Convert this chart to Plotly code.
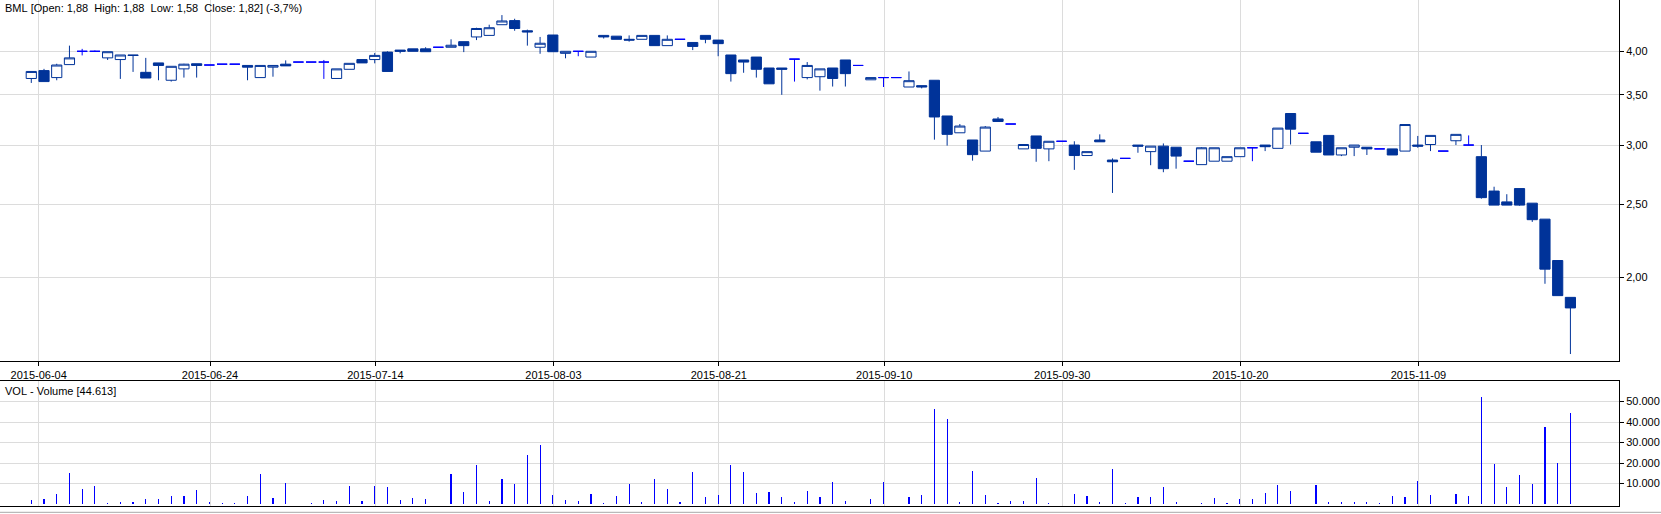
import plotly.graph_objects as go

# ---- data ----
opens = [3.68, 3.77, 3.69, 3.84, 4.00, 4.00, 3.92, 3.90, 3.955, 3.75,
         3.86, 3.66, 3.79, 3.85, 3.835, 3.845, 3.845, 3.83, 3.69, 3.81,
         3.845, 3.87, 3.87, 3.87, 3.68, 3.785, 3.90, 3.90, 3.99, 4.015,
         4.03, 4.03, 4.05, 4.05, 4.12, 4.18, 4.20, 4.34, 4.395, 4.26,
         4.05, 4.205, 3.975, 4.00, 3.93, 4.20, 4.19, 4.15, 4.15, 4.20,
         4.07, 4.15, 4.11, 4.20, 4.14, 3.955, 3.895, 3.93, 3.80, 3.80,
         3.905, 3.69, 3.70, 3.80, 3.895, 3.83, 3.665, 3.69, 3.69, 3.585,
         3.60, 3.66, 3.28, 3.115, 3.047, 2.945, 3.25, 3.20, 2.965, 3.085,
         2.965, 3.035, 3.00, 2.905, 3.047, 2.865, 2.88, 3.00, 2.94, 2.99,
         2.98, 2.855, 2.825, 2.855, 2.855, 2.895, 2.975, 3.00, 2.97, 3.305,
         3.11, 3.03, 3.09, 2.91, 2.98, 2.98, 2.965, 2.965, 2.945, 3.00,
         3.005, 2.945, 3.04, 3.00, 2.895, 2.605, 2.52, 2.625, 2.51, 2.39,
         2.105, 1.88]
highs = [3.76, 3.79, 3.85, 4.07, 4.03, 4.01, 3.995, 3.955, 3.955, 3.92,
         3.86, 3.82, 3.85, 3.85, 3.835, 3.845, 3.845, 3.83, 3.83, 3.83,
         3.89, 3.87, 3.87, 3.895, 3.79, 3.855, 3.90, 3.98, 4.00, 4.015,
         4.03, 4.05, 4.05, 4.15, 4.12, 4.30, 4.34, 4.47, 4.42, 4.275,
         4.18, 4.205, 4.00, 4.00, 4.00, 4.20, 4.19, 4.20, 4.20, 4.20,
         4.20, 4.15, 4.11, 4.20, 4.14, 3.955, 3.895, 3.93, 3.80, 3.80,
         3.905, 3.87, 3.79, 3.80, 3.895, 3.83, 3.69, 3.69, 3.69, 3.76,
         3.60, 3.66, 3.28, 3.20, 3.047, 3.18, 3.27, 3.20, 3.005, 3.085,
         3.035, 3.035, 3.035, 2.94, 3.10, 2.88, 2.88, 3.00, 2.99, 3.015,
         2.98, 2.855, 2.98, 2.975, 2.895, 2.975, 2.975, 3.00, 3.16, 3.305,
         3.11, 3.03, 3.09, 2.975, 3.00, 2.98, 2.965, 2.965, 3.195, 3.085,
         3.09, 2.945, 3.10, 3.09, 3.00, 2.64, 2.58, 2.625, 2.51, 2.39,
         2.105, 1.88]
lows = [3.63, 3.645, 3.66, 3.84, 3.95, 3.995, 3.895, 3.675, 3.755, 3.685,
        3.66, 3.645, 3.69, 3.69, 3.835, 3.845, 3.845, 3.66, 3.69, 3.70,
        3.825, 3.87, 3.87, 3.675, 3.68, 3.785, 3.86, 3.855, 3.76, 3.975,
        4.00, 3.995, 4.05, 4.05, 3.99, 4.14, 4.20, 4.34, 4.26, 4.07,
        3.97, 3.995, 3.915, 3.94, 3.93, 4.16, 4.15, 4.12, 4.15, 4.07,
        4.07, 4.15, 4.015, 4.10, 3.94, 3.645, 3.745, 3.69, 3.62, 3.50,
        3.645, 3.67, 3.545, 3.59, 3.59, 3.83, 3.665, 3.585, 3.69, 3.585,
        3.57, 3.05, 2.995, 3.115, 2.86, 2.945, 3.225, 3.20, 2.965, 2.85,
        2.855, 3.035, 2.78, 2.905, 3.03, 2.59, 2.88, 2.93, 2.82, 2.76,
        2.79, 2.855, 2.825, 2.855, 2.855, 2.895, 2.855, 2.945, 2.97, 3.005,
        3.11, 2.935, 2.91, 2.90, 2.90, 2.91, 2.965, 2.91, 2.945, 2.975,
        2.945, 2.945, 3.00, 3.00, 2.545, 2.495, 2.495, 2.49, 2.37, 1.96,
        1.89, 1.58]
closes = [3.76, 3.645, 3.835, 3.92, 4.00, 4.00, 3.995, 3.955, 3.95, 3.685,
          3.83, 3.82, 3.845, 3.83, 3.835, 3.845, 3.845, 3.81, 3.83, 3.83,
          3.825, 3.87, 3.87, 3.87, 3.79, 3.855, 3.86, 3.95, 3.76, 4.00,
          4.00, 3.995, 4.05, 4.075, 4.07, 4.29, 4.30, 4.39, 4.29, 4.245,
          4.10, 3.995, 4.00, 4.00, 4.00, 4.18, 4.15, 4.14, 4.20, 4.07,
          4.15, 4.15, 4.06, 4.15, 4.095, 3.735, 3.87, 3.785, 3.62, 3.785,
          3.905, 3.83, 3.79, 3.68, 3.735, 3.83, 3.69, 3.69, 3.69, 3.655,
          3.585, 3.27, 3.10, 3.18, 2.913, 3.17, 3.225, 3.20, 3.005, 2.97,
          3.035, 3.035, 2.905, 2.94, 3.03, 2.85, 2.88, 2.99, 2.99, 2.79,
          2.90, 2.855, 2.975, 2.975, 2.895, 2.975, 2.975, 2.985, 3.16, 3.15,
          3.11, 2.935, 2.91, 2.975, 3.00, 2.965, 2.965, 2.91, 3.195, 2.99,
          3.09, 2.945, 3.10, 3.00, 2.553, 2.495, 2.495, 2.495, 2.386, 2.05,
          1.89, 1.82]
volumes = [1950, 2440, 4880, 15120, 7320, 8780, 490, 980, 980, 2440,
           2440, 3900, 3900, 6830, 980, 490, 490, 3900, 14630, 2930,
           10240, 0, 490, 1950, 1460, 8780, 1460, 8780, 8290, 1950,
           2930, 2440, 0, 14630, 5850, 19020, 1460, 12200, 9760, 23900,
           28780, 4390, 1950, 1460, 4880, 490, 3900, 9760, 980, 12200,
           7320, 980, 15610, 3410, 4390, 19020, 15610, 5370, 5850, 3410,
           980, 6340, 3410, 10730, 1460, 0, 2440, 10730, 0, 3410,
           4390, 46340, 41460, 980, 16100, 4390, 490, 1460, 1460, 12680,
           490, 0, 4880, 3900, 980, 17070, 490, 3410, 3410, 8290,
           980, 0, 490, 2930, 490, 2440, 2440, 5370, 9270, 6340,
           0, 9270, 980, 980, 980, 980, 490, 3900, 3410, 11220,
           4390, 0, 4880, 3900, 52200, 19510, 8290, 14150, 9760, 37560,
           20000, 44613]

tick_labels = ["2015-06-04", "2015-06-24", "2015-07-14", "2015-08-03", "2015-08-21",
               "2015-09-10", "2015-09-30", "2015-10-20", "2015-11-09"]
tick_pos = [0.58, 14.05, 27.05, 41.05, 54.05, 67.05, 81.05, 95.05, 109.05]

price_ticks = [2.0, 2.5, 3.0, 3.5, 4.0]
vol_ticks = [10000, 20000, 30000, 40000, 50000]

header = "BML [Open: 1,88  High: 1,88  Low: 1,58  Close: 1,82] (-3,7%)"
vol_header = "VOL - Volume [44.613]"

# ---- styling ----
W, H = 1661, 514
NAVY = "#003399"
BLUE = "#0000ff"
GRID = "#dcdcdc"
FONT = dict(family="Liberation Sans, Arial, sans-serif", size=11, color="black")

idx = list(range(len(opens)))
flat = [i for i in idx if opens[i] == closes[i]]
moving = [i for i in idx if opens[i] != closes[i]]

def pick(arr, sel):
    return [arr[i] for i in sel]

fig = go.Figure()
fig.add_trace(go.Candlestick(
    x=moving, open=pick(opens, moving), high=pick(highs, moving),
    low=pick(lows, moving), close=pick(closes, moving),
    increasing=dict(line=dict(color=NAVY, width=1), fillcolor="white"),
    decreasing=dict(line=dict(color=NAVY, width=1), fillcolor=NAVY),
    whiskerwidth=0, xaxis="x", yaxis="y", showlegend=False, hoverinfo="skip"))
fig.add_trace(go.Candlestick(
    x=flat, open=pick(opens, flat), high=pick(highs, flat),
    low=pick(lows, flat), close=pick(closes, flat),
    increasing=dict(line=dict(color=BLUE, width=1), fillcolor=BLUE),
    decreasing=dict(line=dict(color=BLUE, width=1), fillcolor=BLUE),
    whiskerwidth=0, xaxis="x", yaxis="y", showlegend=False, hoverinfo="skip"))
fig.add_trace(go.Bar(
    x=idx, y=volumes, width=0.09, marker=dict(color=BLUE, line=dict(width=0)),
    xaxis="x2", yaxis="y2", showlegend=False, hoverinfo="skip"))

xr = [-2.46, 124.82]
xdom = [0, 1619 / W]
price_dom = [1 - 361 / H, 1]
vol_dom = [(H - 506) / H, (H - 381) / H]

fig.update_layout(
    width=W, height=H, margin=dict(l=0, r=0, t=0, b=0),
    paper_bgcolor="white", plot_bgcolor="white",
    separators=",.", font=FONT, boxgap=0.2, boxgroupgap=0, boxmode="overlay",
    bargap=0,
    xaxis=dict(domain=xdom, range=xr, anchor="y", tickmode="array",
               tickvals=tick_pos, ticktext=tick_labels, showgrid=True, gridcolor=GRID,
               gridwidth=1, zeroline=False, showline=True, linecolor="black", linewidth=1,
               ticks="outside", ticklen=4, tickcolor="black", tickfont=FONT,
               rangeslider=dict(visible=False), fixedrange=True),
    yaxis=dict(domain=price_dom, type="log", range=[0.18935, 0.67042], side="right",
               anchor="x", tickmode="array", tickvals=price_ticks, tickformat=".2f",
               showgrid=True, gridcolor=GRID, gridwidth=1, zeroline=False,
               showline=True, linecolor="black", linewidth=1, ticks="outside",
               ticklen=4, tickcolor="black", tickfont=FONT, fixedrange=True),
    xaxis2=dict(domain=xdom, range=xr, anchor="y2", tickmode="array",
                tickvals=tick_pos, showticklabels=False, showgrid=True, gridcolor=GRID,
                zeroline=False, showline=True, mirror=True, linecolor="black",
                linewidth=1, ticks="", fixedrange=True),
    yaxis2=dict(domain=vol_dom, range=[-976, 60000], side="right", anchor="x2",
                tickmode="array", tickvals=vol_ticks, tickformat=",d",
                showgrid=True, gridcolor=GRID, zeroline=False, showline=True,
                linecolor="black", linewidth=1, ticks="outside", ticklen=4,
                tickcolor="black", tickfont=FONT, fixedrange=True),
    annotations=[
        dict(text=header.replace(" ", "\u00a0"), xref="paper", yref="paper",
             x=3 / W, y=1 - 8 / H, xanchor="left", yanchor="middle",
             showarrow=False, font=FONT),
        dict(text=vol_header.replace(" ", "\u00a0"), xref="paper", yref="paper",
             x=3 / W, y=1 - 390.5 / H, xanchor="left", yanchor="middle",
             showarrow=False, font=FONT),
    ],
    shapes=[dict(type="line", xref="paper", yref="paper", x0=0, x1=1,
                 y0=(H - 512.3) / H, y1=(H - 512.3) / H,
                 line=dict(color="#a8a8a8", width=1))],
)

fig.write_html("out.html", config={"displayModeBar": False, "staticPlot": True},
               post_script="document.body.style.margin='0';document.body.style.overflow='hidden';")
